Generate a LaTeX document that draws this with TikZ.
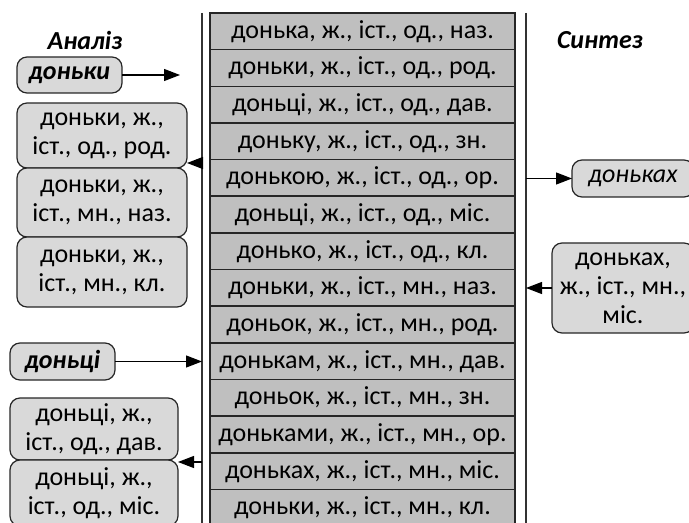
\documentclass[tikz,border=0pt]{standalone}
\usepackage{fontspec}
\setmainfont{Carlito}
\usetikzlibrary{positioning, arrows.meta}

\begin{document}
\begin{tikzpicture}[x=0.5pt, y=-0.5pt, node distance=0pt, >={Triangle[length=8pt, width=6pt]},
      font=\fontsize{13}{14.5}\selectfont,
      form/.style={draw=black!85, thick, fill=black!25, minimum width=152.5pt, minimum height=18.33pt, inner sep=0pt, outer sep=0pt},
      word/.style={draw=black!85, semithick, rounded corners=5pt, fill=black!15, align=center, inner sep=0pt, outer sep=0pt},
      head/.style={font=\fontsize{13}{14.5}\selectfont\bfseries\itshape},
      vline/.style={draw=black!80, line width=1pt},
      link/.style={->, semithick}]

    \useasboundingbox (0,0) rectangle (689,523);
    \clip (0,0) rectangle (689,523);

    % the two rules round the table
    \coordinate (ltop) at (202,13);
    \coordinate (lbot) at (202,530);
    \coordinate (rtop) at (526,13);
    \coordinate (rbot) at (526,530);
    \draw[vline] (ltop) -- (lbot);
    \draw[vline] (rtop) -- (rbot);

    % paradigm table
    \node[form] (f1) at (362.5,31.33) {донька, ж., іст., од., наз.};
    \node[form, below=of f1] (f2) {доньки, ж., іст., од., род.};
    \node[form, below=of f2] (f3) {доньці, ж., іст., од., дав.};
    \node[form, below=of f3] (f4) {доньку, ж., іст., од., зн.};
    \node[form, below=of f4] (f5) {донькою, ж., іст., од., ор.};
    \node[form, below=of f5] (f6) {доньці, ж., іст., од., міс.};
    \node[form, below=of f6] (f7) {донько, ж., іст., од., кл.};
    \node[form, below=of f7] (f8) {доньки, ж., іст., мн., наз.};
    \node[form, below=of f8] (f9) {доньок, ж., іст., мн., род.};
    \node[form, below=of f9] (f10) {донькам, ж., іст., мн., дав.};
    \node[form, below=of f10] (f11) {доньок, ж., іст., мн., зн.};
    \node[form, below=of f11] (f12) {доньками, ж., іст., мн., ор.};
    \node[form, below=of f12] (f13) {доньках, ж., іст., мн., міс.};
    \node[form, below=of f13] (f14) {доньки, ж., іст., мн., кл.};

    % analysis side
    \node[head] (analysis) at (85,40) {Аналіз};
    \node[word, head, minimum width=52.5pt, minimum height=18pt] (donky) at (69.5,75) {доньки};
    \node[word, minimum width=85pt, minimum height=32.5pt] (rod) at (102,135.5) {доньки, ж.,\\іст., од., род.};
    \node[word, minimum width=85pt, minimum height=34.5pt, below=of rod] (naz) {доньки, ж.,\\іст., мн., наз.};
    \node[word, minimum width=85pt, minimum height=35pt, below=of naz] (kl) {доньки, ж.,\\іст., мн., кл.};

    \node[word, head, minimum width=52.5pt, minimum height=18.5pt] (dontsi) at (62.5,361.5) {доньці};
    \node[word, minimum width=84pt, minimum height=31pt] (dav) at (94,429) {доньці, ж.,\\іст., од., дав.};
    \node[word, minimum width=84pt, minimum height=33pt, below=of dav] (mis) {доньці, ж.,\\іст., од., міс.};

    % synthesis side
    \node[head] (synthesis) at (600,40) {Синтез};
    \node[word, font=\fontsize{13}{14.5}\selectfont\itshape, minimum width=61pt, minimum height=18.5pt] (donkakh) at (633,178.5) {доньках};
    \node[word, minimum width=71pt, minimum height=45pt] (request) at (623,288) {доньках,\\ж., іст., мн.,\\міс.};

    % arrows
    \coordinate (a1) at (180,75);
    \coordinate (a2) at (202,163);
    \coordinate (a3) at (526,178.5);
    \coordinate (a4) at (202,462);
    \draw[link] (donky.east) -- (a1);
    \draw[link] (a2) -- (a2 -| rod.east);
    \draw[link] (a3) -- (donkakh.west);
    \draw[link] (request.west) -- (request.west -| rtop);
    \draw[link] (dontsi.east) -- (dontsi.east -| ltop);
    \draw[link] (a4) -- (a4 -| dav.east);
  \end{tikzpicture}
\end{document}
